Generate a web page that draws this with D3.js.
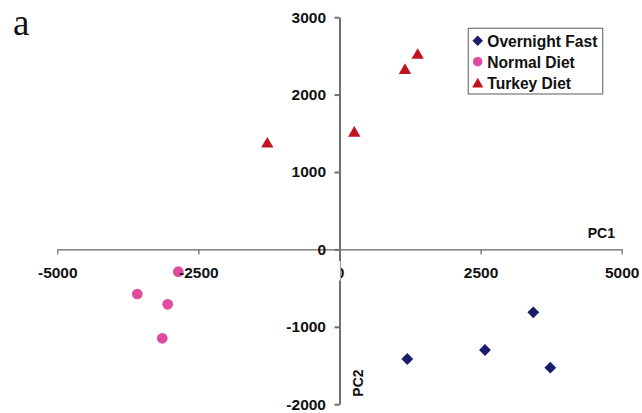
<!DOCTYPE html>
<html>
<head>
<meta charset="utf-8">
<script src="https://cdn.jsdelivr.net/npm/d3@7"></script>
<style>
  body { margin: 0; background: #fff; }
  svg text { font-family: "Liberation Sans", Arial, sans-serif; font-weight: bold; fill: #111; }
</style>
</head>
<body>
<svg id="chart" width="642" height="413"></svg>
<script>
// PCA scores
const seriesNames = ["Overnight Fast", "Normal Diet", "Turkey Diet"];
const overnightFast = [[1201, -1416], [2578, -1300], [3434, -813], [3735, -1528]];
const normalDiet = [[-2856, -288], [-3583, -576], [-3044, -709], [-3140, -1149]];
const turkeyDiet = [[-1279, 1381], [262, 1521], [1160, 2333], [1385, 2527]];
const xTicks = [-5000, -2500, 0, 2500, 5000];
const yTicks = [-2000, -1000, 0, 1000, 2000, 3000];

const svg = d3.select("#chart");

const x = d3.scaleLinear().domain([-5000, 5000]).range([57.3, 621.7]);
const y = d3.scaleLinear().domain([-2000, 3000]).range([404.2, 17.2]);

// diamonds are squares turned 45deg, triangles shifted to bbox centre
const series = [
  { name: seriesNames[0], data: overnightFast, shape: d3.symbolSquare, size: 70, rot: 45, dy: 0, color: "#1a1d6b" },
  { name: seriesNames[1], data: normalDiet, shape: d3.symbolCircle, size: 90, rot: 0, dy: 0, color: "#e04a9f" },
  { name: seriesNames[2], data: turkeyDiet, shape: d3.symbolTriangle, size: 66, rot: 0, dy: 1.5, color: "#c0121f" }
];

// panel letter
svg.append("text")
  .attr("x", 13).attr("y", 35)
  .style("font-family", "'Liberation Serif', 'Times New Roman', serif")
  .style("font-weight", "normal")
  .style("font-size", "37px")
  .text("a");

// points
series.forEach(s => {
  svg.append("g").selectAll("path")
    .data(s.data)
    .join("path")
    .attr("d", d3.symbol(s.shape, s.size))
    .attr("transform", d => `translate(${x(d[0])},${y(d[1]) + s.dy}) rotate(${s.rot})`)
    .attr("fill", s.color);
});

// axes
const xAxis = d3.axisBottom(x)
  .tickValues(xTicks)
  .tickFormat(d => String(d))
  .tickSize(5)
  .tickSizeOuter(0)
  .tickPadding(12.6);

const yAxis = d3.axisLeft(y)
  .tickValues(yTicks)
  .tickFormat(d => String(d))
  .tickSize(5)
  .tickSizeOuter(0)
  .tickPadding(8.5);

const gx = svg.append("g")
  .attr("transform", `translate(0,${y(0)})`)
  .call(xAxis);
gx.selectAll("path, line").attr("stroke", "#666").attr("stroke-width", 1.2);
gx.selectAll("text").style("font-size", "15.5px").attr("fill", "#111");

const gy = svg.append("g")
  .attr("transform", `translate(${x(0)},0)`)
  .call(yAxis);
gy.selectAll("path, line").attr("stroke", "#707070").attr("stroke-width", 2);
gy.selectAll("text").style("font-size", "15.5px").attr("fill", "#111");

// white patch that hides most of the x "0" label and part of the y axis
svg.append("rect")
  .attr("x", x(0) - 18).attr("y", 261)
  .attr("width", 18.8).attr("height", 19.5)
  .attr("fill", "#fff");

// axis titles
svg.append("text")
  .attr("x", 587.7).attr("y", 238.3)
  .style("font-size", "14px")
  .text("PC1");

svg.append("text")
  .attr("transform", "translate(363.3,396.7) rotate(-90)")
  .style("font-size", "14px")
  .text("PC2");

// legend
const legend = svg.append("g");
legend.append("rect")
  .attr("x", 468.3).attr("y", 28.3)
  .attr("width", 134.4).attr("height", 65.7)
  .attr("fill", "#fff")
  .attr("stroke", "#777")
  .attr("stroke-width", 1.2);

series.forEach((s, i) => {
  const by = 46.7 + i * 21;
  legend.append("path")
    .attr("d", d3.symbol(s.shape, s.size * 0.8))
    .attr("transform", `translate(477.7,${by - 6 + s.dy}) rotate(${s.rot})`)
    .attr("fill", s.color);
  legend.append("text")
    .attr("x", 487.3).attr("y", by)
    .style("font-size", "15.6px")
    .text(s.name);
});
</script>
</body>
</html>
